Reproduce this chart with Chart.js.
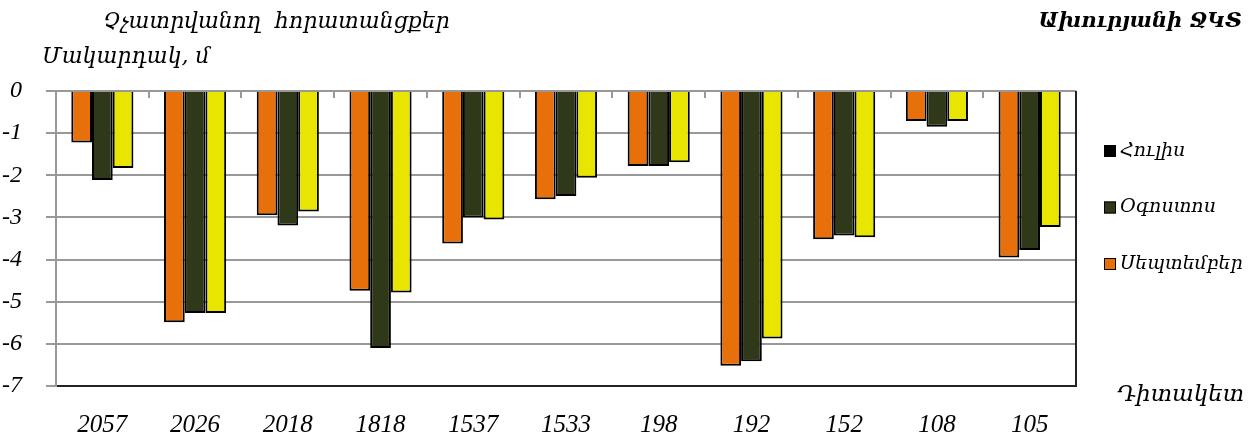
<!DOCTYPE html>
<html>
<head>
<meta charset="utf-8">
<script src="https://cdn.jsdelivr.net/npm/chart.js@4"></script>
<style>
    html, body { margin: 0; padding: 0; background: #fff; }
    #wrap { width: 1256px; height: 441px; }
</style>
</head>
<body>
<div id="wrap"><canvas id="chart" width="1256" height="441"></canvas></div>
<script>
const wells = ["2057", "2026", "2018", "1818", "1537", "1533", "198", "192", "152", "108", "105"];
const september = [-1.22, -5.49, -2.95, -4.74, -3.62, -2.57, -1.78, -6.52, -3.52, -0.71, -3.95];
const august = [-2.11, -5.27, -3.19, -6.10, -3.00, -2.49, -1.78, -6.41, -3.43, -0.85, -3.77];
const july = [-1.83, -5.27, -2.86, -4.78, -3.05, -2.06, -1.69, -5.87, -3.47, -0.71, -3.23];
const yTicks = [0, -1, -2, -3, -4, -5, -6, -7];

const titleText = "Չչատրվանող  հորատանցքեր";
const yTitle = "Մակարդակ, մ";
const stationText = "Ախուրյանի ՋԿՏ";
const xTitle = "Դիտակետ";
// legend order and swatches as in the picture
const legendItems = [
    { text: "Հուլիս", color: "#000000" },
    { text: "Օգոստոս", color: "#2f3819" },
    { text: "Սեպտեմբեր", color: "#e8700a" }
];

const armFont = '"DejaVu Serif", serif';

// titles, legend and the frame pieces Excel draws around the plot
const decor = {
    id: 'decor',
    afterDraw(chart) {
        const ctx = chart.ctx;
        const area = chart.chartArea;
        const xs = chart.scales.x;
        ctx.save();

        // small tick marks hanging from the top edge between groups
        ctx.strokeStyle = '#999';
        ctx.lineWidth = 2;
        for (let i = 1; i < wells.length; i++) {
            const px = Math.round((xs.getPixelForValue(i - 1) + xs.getPixelForValue(i)) / 2);
            ctx.beginPath();
            ctx.moveTo(px, area.top);
            ctx.lineTo(px, area.top + 7);
            ctx.stroke();
        }
        // right edge, dark
        ctx.strokeStyle = '#222';
        ctx.beginPath();
        ctx.moveTo(area.right, area.top);
        ctx.lineTo(area.right, area.bottom + 1);
        ctx.stroke();

        ctx.fillStyle = '#000';
        ctx.textBaseline = 'middle';
        ctx.textAlign = 'left';
        ctx.font = 'italic 22px ' + armFont;
        ctx.fillText(titleText, 103, 22);
        ctx.fillText(yTitle, 42, 57);
        ctx.font = 'italic 23px ' + armFont;
        ctx.fillText(xTitle, 1117, 395);
        ctx.font = 'italic bold 21px ' + armFont;
        ctx.textAlign = 'right';
        ctx.fillText(stationText, 1242, 22);

        // legend
        ctx.textAlign = 'left';
        ctx.font = 'italic 19px ' + armFont;
        legendItems.forEach((item, i) => {
            const y = 151 + i * 56.5;
            ctx.fillStyle = item.color;
            ctx.fillRect(1104, y - 6, 12, 12);
            ctx.strokeStyle = '#000';
            ctx.lineWidth = 1;
            ctx.strokeRect(1104.5, y - 5.5, 11, 11);
            ctx.fillStyle = '#000';
            ctx.fillText(item.text, 1120, y);
        });
        ctx.restore();
    }
};

const ctx = document.getElementById('chart').getContext('2d');
const myChart = new Chart(ctx, {
    type: 'bar',
    data: {
        labels: wells,
        datasets: [
            { label: "Սեպտեմբեր", data: september, backgroundColor: '#e8700a' },
            { label: "Օգոստոս", data: august, backgroundColor: '#2f3819' },
            { label: "Հուլիս", data: july, backgroundColor: '#e8e600' }
        ]
    },
    options: {
        responsive: false,
        animation: false,
        layout: {
            padding: { top: 91, right: 180, left: -22, bottom: -23 }
        },
        datasets: {
            bar: {
                borderColor: '#000',
                borderWidth: 2,
                categoryPercentage: 0.67,
                barPercentage: 1
            }
        },
        plugins: {
            legend: { display: false },
            tooltip: { enabled: false }
        },
        scales: {
            x: {
                position: 'bottom',
                grid: { display: false, drawTicks: false },
                border: { color: '#222', width: 2 },
                ticks: {
                    padding: 24,
                    color: '#000',
                    font: { family: '"Liberation Serif", serif', style: 'italic', size: 25 },
                    maxRotation: 0
                }
            },
            y: {
                min: -7,
                max: 0,
                afterBuildTicks(scale) {
                    scale.ticks = yTicks.map(v => ({ value: v }));
                },
                grid: { color: '#999', lineWidth: 2, tickLength: 10 },
                border: { color: '#999', width: 2 },
                ticks: {
                    padding: 24,
                    color: '#000',
                    font: { family: '"Liberation Serif", serif', style: 'italic', size: 24 }
                }
            }
        }
    },
    plugins: [decor]
});
</script>
</body>
</html>
